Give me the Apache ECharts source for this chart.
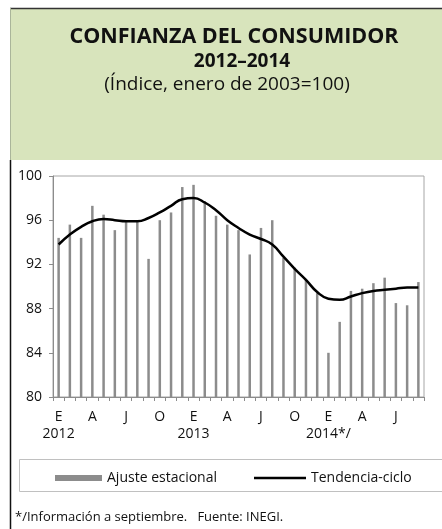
<!DOCTYPE html>
<html>
<head>
<meta charset="utf-8">
<script src="https://cdn.jsdelivr.net/npm/echarts@6/dist/echarts.min.js"></script>
<style>
  html, body { margin: 0; padding: 0; background: #fff; }
  #chart { width: 442px; height: 529px; }
</style>
</head>
<body>
<div id="chart"></div>
<script>
// meses ene-2012 a sep-2014
const months = [
  '2012-01','2012-02','2012-03','2012-04','2012-05','2012-06','2012-07','2012-08','2012-09','2012-10','2012-11','2012-12',
  '2013-01','2013-02','2013-03','2013-04','2013-05','2013-06','2013-07','2013-08','2013-09','2013-10','2013-11','2013-12',
  '2014-01','2014-02','2014-03','2014-04','2014-05','2014-06','2014-07','2014-08','2014-09'
];
const monthLetters = ['E','F','M','A','M','J','J','A','S','O','N','D'];
const yearLabels = { '2012': '2012', '2013': '2013', '2014': '2014*/' };

const ajusteEstacional = [
  94.4, 95.6, 94.4, 97.3, 96.5, 95.1, 95.9, 95.9, 92.5, 96.0, 96.7, 99.0,
  99.2, 97.7, 96.4, 95.6, 95.1, 92.9, 95.3, 96.0, 92.6, 91.7, 90.6, 89.4,
  84.0, 86.8, 89.6, 89.8, 90.3, 90.8, 88.5, 88.3, 90.4
];
const tendenciaCiclo = [
  93.8, 94.7, 95.4, 95.9, 96.1, 96.0, 95.9, 95.9, 96.2, 96.7, 97.3, 97.9,
  98.0, 97.6, 96.9, 96.0, 95.3, 94.7, 94.3, 93.8, 92.7, 91.6, 90.6, 89.5,
  88.9, 88.8, 89.1, 89.4, 89.6, 89.7, 89.8, 89.9, 89.9
];

const yMin = 80, yMax = 100, yStep = 4;
const FONT = 'Open Sans';

const chart = echarts.init(document.getElementById('chart'), null, { renderer: 'canvas' });

const option = {
  backgroundColor: '#fff',
  animation: false,
  textStyle: { fontFamily: FONT },
  graphic: [
    // encabezado verde
    { type: 'rect', left: 10, top: 8, shape: { width: 432, height: 152 }, style: { fill: '#d8e4bc' }, z: -10 },
    { type: 'line', shape: { x1: 10, y1: 8.5, x2: 442, y2: 8.5 }, style: { stroke: '#333', lineWidth: 1.5 } },
    { type: 'line', shape: { x1: 10.5, y1: 8, x2: 10.5, y2: 160 }, style: { stroke: '#aab59a', lineWidth: 1 } },
    { type: 'line', shape: { x1: 10.5, y1: 160, x2: 10.5, y2: 529 }, style: { stroke: '#111', lineWidth: 1.5 } },
    { type: 'text', style: { x: 234, y: 37, text: 'CONFIANZA DEL CONSUMIDOR', textAlign: 'center', textVerticalAlign: 'middle',
      font: 'bold 21.5px "' + FONT + '"', fill: '#111' } },
    { type: 'text', style: { x: 242, y: 62, text: '2012–2014', textAlign: 'center', textVerticalAlign: 'middle',
      font: 'bold 19px "' + FONT + '"', fill: '#111' } },
    { type: 'text', style: { x: 227, y: 85, text: '(Índice, enero de 2003=100)', textAlign: 'center', textVerticalAlign: 'middle',
      font: '19px "' + FONT + '"', fill: '#111' } },
    // caja de leyenda
    { type: 'rect', left: 17, top: 457, shape: { width: 423, height: 32 }, style: { fill: 'none', stroke: '#c0c0c0', lineWidth: 1 } },
    // nota
    { type: 'text', style: { x: 15, y: 517, text: '*/Información a septiembre.   Fuente: INEGI.', textVerticalAlign: 'middle',
      font: '13px "' + FONT + '"', fill: '#111' } }
  ],
  grid: {
    left: 53, right: 18, top: 176, bottom: 132,
    show: true, borderColor: '#a6a6a6', borderWidth: 1, backgroundColor: 'transparent'
  },
  legend: [
    {
      top: 466, left: 50,
      itemWidth: 47, itemHeight: 6,
      textStyle: { fontFamily: FONT, fontSize: 14, color: '#111' },
      data: [{ name: 'Ajuste estacional', icon: 'rect' }]
    },
    {
      top: 466, left: 249,
      itemWidth: 52, itemHeight: 2.5,
      textStyle: { fontFamily: FONT, fontSize: 14, color: '#111' },
      data: [{ name: 'Tendencia-ciclo', icon: 'rect' }]
    }
  ],
  xAxis: {
    type: 'category',
    data: months,
    boundaryGap: true,
    axisLine: { lineStyle: { color: '#8c8c8c', width: 1 } },
    axisTick: { show: true, interval: 0, length: 4, inside: false, lineStyle: { color: '#8c8c8c' } },
    axisLabel: {
      interval: 2,
      margin: 12,
      fontSize: 14,
      lineHeight: 17,
      color: '#111',
      formatter: function (value) {
        const parts = value.split('-');
        const m = parseInt(parts[1], 10) - 1;
        const letter = monthLetters[m];
        return m === 0 ? letter + '\n' + yearLabels[parts[0]] : letter;
      }
    },
    splitLine: { show: false }
  },
  yAxis: {
    type: 'value',
    min: yMin, max: yMax, interval: yStep,
    axisLine: { show: true, lineStyle: { color: '#8c8c8c', width: 1 } },
    axisTick: { show: true, length: 4, lineStyle: { color: '#8c8c8c' } },
    axisLabel: { margin: 11, fontSize: 14, color: '#111' },
    splitLine: { show: false }
  },
  series: [
    {
      name: 'Ajuste estacional',
      type: 'bar',
      data: ajusteEstacional,
      barWidth: 2.5,
      itemStyle: { color: '#8c8c8c' }
    },
    {
      name: 'Tendencia-ciclo',
      type: 'line',
      data: tendenciaCiclo,
      smooth: true,
      symbol: 'none',
      lineStyle: { color: '#000', width: 2.5 },
      itemStyle: { color: '#000' }
    }
  ]
};

chart.setOption(option);
</script>
</body>
</html>
